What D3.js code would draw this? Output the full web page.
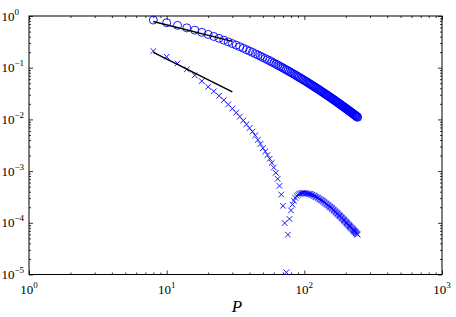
<!DOCTYPE html>
<html><head><meta charset="utf-8">
<script src="https://cdn.jsdelivr.net/npm/d3@7"></script>
<style>
html,body{margin:0;padding:0;background:#fff;}
svg{display:block;}
</style></head>
<body>
<svg id="chart" width="456" height="317"></svg>
<script>
// ---- data ----
const P = [
  8,10,12,14,16,18,20,22,24,26,
  28,30,32,34,36,38,40,42,44,46,
  48,50,52,54,56,58,60,62,64,66,
  68,70,72,74,76,78,80,82,84,86,
  88,90,92,94,96,98,100,102,104,106,
  108,110,112,114,116,118,120,122,124,126,
  128,130,132,134,136,138,140,142,144,146,
  148,150,152,154,156,158,160,162,164,166,
  168,170,172,174,176,178,180,182,184,186,
  188,190,192,194,196,198,200,202,204,206,
  208,210,212,214,216,218,220,222,224,226,
  228,230,232,234,236,238,240,242,244
];
const circleSeries = [
  0.836,0.740,0.659,0.590,0.532,0.483,0.440,0.402,0.370,0.341,
  0.316,0.293,0.273,0.255,0.238,0.2235,0.210,0.1978,0.1866,0.1763,
  0.1669,0.1582,0.1501,0.1426,0.1357,0.1293,0.1233,0.1178,0.1125,0.1077,
  0.1031,0.0988,0.0947,0.0909,0.0874,0.0840,0.0808,0.0778,0.0749,0.0722,
  0.0697,0.0672,0.0649,0.0627,0.0606,0.0586,0.0567,0.0549,0.0532,0.0515,
  0.0499,0.0484,0.0470,0.0456,0.0443,0.0430,0.0418,0.0406,0.0395,0.0384,
  0.0374,0.0364,0.0354,0.0345,0.0336,0.0327,0.0319,0.0311,0.0303,0.0296,
  0.0288,0.0281,0.0275,0.0268,0.0262,0.0256,0.0250,0.0244,0.0239,0.0234,
  0.0228,0.0223,0.0219,0.0214,0.0209,0.0205,0.0200,0.0196,0.0192,0.0188,
  0.0184,0.0181,0.0177,0.0174,0.0170,0.0167,0.0164,0.0160,0.0157,0.0154,
  0.0152,0.0149,0.0146,0.0143,0.0141,0.0138,0.0136,0.0133,0.0131,0.0129,
  0.0126,0.0124,0.0122,0.0120,0.0118,0.0116,0.0114,0.0112,0.0110
];
const crossSeries = [
  0.210,0.163,0.121,0.0927,0.0710,0.0550,0.0427,0.0349,0.0286,0.0236,
  0.0195,0.0162,0.0135,0.0113,0.00953,0.00805,0.00682,0.00581,0.00490,0.00403,
  0.00335,0.00277,0.00240,0.00205,0.00173,0.00144,0.00117,9.26e-4,7.09e-4,5.18e-4,
  3.52e-4,2.13e-4,9.9e-5,1.1e-5,5.9e-5,1.19e-4,1.74e-4,2.25e-4,2.68e-4,3.03e-4,
  3.30e-4,3.50e-4,3.63e-4,3.71e-4,3.75e-4,3.77e-4,3.77e-4,3.73e-4,3.69e-4,3.66e-4,
  3.62e-4,3.58e-4,3.55e-4,3.47e-4,3.39e-4,3.31e-4,3.23e-4,3.16e-4,3.09e-4,3.02e-4,
  2.93e-4,2.85e-4,2.78e-4,2.71e-4,2.64e-4,2.56e-4,2.49e-4,2.41e-4,2.34e-4,2.27e-4,
  2.21e-4,2.15e-4,2.08e-4,2.03e-4,1.97e-4,1.92e-4,1.86e-4,1.80e-4,1.75e-4,1.70e-4,
  1.65e-4,1.60e-4,1.55e-4,1.51e-4,1.46e-4,1.42e-4,1.38e-4,1.35e-4,1.31e-4,1.27e-4,
  1.23e-4,1.20e-4,1.16e-4,1.13e-4,1.10e-4,1.07e-4,1.04e-4,1.01e-4,9.83e-5,9.55e-5,
  9.29e-5,9.04e-5,8.80e-5,8.57e-5,8.34e-5,8.12e-5,7.92e-5,7.71e-5,7.52e-5,7.33e-5,
  7.15e-5,6.97e-5,6.80e-5,6.64e-5,6.48e-5,6.32e-5,6.17e-5,6.03e-5,5.89e-5
];
const fitP = [8, 30];
const circleFit = [0.78, 0.323];
const crossFit = [0.198, 0.034];
const xMajor = [1, 10, 100, 1000];
const xExp = ["0", "1", "2", "3"];
const yMajor = [1, 0.1, 0.01, 0.001, 1e-4, 1e-5];
const yExp = ["0", "\u22121", "\u22122", "\u22123", "\u22124", "\u22125"];
const xLabel = "P";

// ---- layout ----
const FONT = "'Liberation Serif', 'Times New Roman', Times, serif";
const svg = d3.select("#chart");
const L = 29, R = 442, T = 16, B = 274.5;
const x = d3.scaleLog().domain([1, 1000]).range([L, R]);
const y = d3.scaleLog().domain([1e-5, 1]).range([B, T]);

function minorsOf(domain) {
  const out = [];
  let d = domain[0];
  while (d < domain[1] - 1e-12) {
    for (let k = 2; k <= 9; k++) out.push(d * k);
    d *= 10;
  }
  return out;
}
const xMinor = minorsOf([1, 1000]);
const yMinor = minorsOf([1e-5, 1]);

function drawAxis(gen, transform, values, size) {
  const g = svg.append("g").attr("transform", transform)
    .call(gen.tickValues(values).tickSize(-size).tickFormat(""));
  g.select(".domain").remove();
  g.selectAll(".tick line").attr("stroke", "#000").attr("stroke-width", 0.8);
  g.selectAll(".tick text").remove();
}
[[xMinor, 2], [xMajor, 4]].forEach(([v, s]) => {
  drawAxis(d3.axisBottom(x), `translate(0,${B})`, v, s);
  drawAxis(d3.axisTop(x), `translate(0,${T})`, v, s);
});
[[yMinor, 2], [yMajor, 4]].forEach(([v, s]) => {
  drawAxis(d3.axisLeft(y), `translate(${L},0)`, v, s);
  drawAxis(d3.axisRight(y), `translate(${R},0)`, v, s);
});

// frame
svg.append("rect").attr("x", L).attr("y", T).attr("width", R - L).attr("height", B - T)
  .attr("fill", "none").attr("stroke", "#000").attr("stroke-width", 1);

// series: circles
const circData = P.map((p, i) => [p, circleSeries[i]]);
svg.append("g").selectAll("circle").data(circData).join("circle")
  .attr("cx", d => x(d[0])).attr("cy", d => y(d[1])).attr("r", 4)
  .attr("fill", "none").attr("stroke", "#0000ff").attr("stroke-width", 0.9);

// series: crosses
const crossData = P.map((p, i) => [p, crossSeries[i]]);
const s = 2.8;
svg.append("g").selectAll("path").data(crossData).join("path")
  .attr("d", d => {
    const cx = x(d[0]), cy = y(d[1]);
    return `M${cx - s},${cy - s}L${cx + s},${cy + s}M${cx - s},${cy + s}L${cx + s},${cy - s}`;
  })
  .attr("fill", "none").attr("stroke", "#0000ff").attr("stroke-width", 0.9);

// fit lines
const line = d3.line().x(d => x(d[0])).y(d => y(d[1]));
[circleFit, crossFit].forEach(f => {
  svg.append("path").attr("d", line(fitP.map((p, i) => [p, f[i]])))
    .attr("fill", "none").attr("stroke", "#000").attr("stroke-width", 1.5);
});

// tick labels
xMajor.forEach((v, i) => {
  const t = svg.append("text").attr("x", x(v)).attr("y", 294)
    .attr("text-anchor", "middle").attr("font-family", FONT).attr("font-size", 13).attr("fill", "#000");
  t.append("tspan").text("10");
  t.append("tspan").attr("dy", -6).attr("font-size", 9).text(xExp[i]);
});
yMajor.forEach((v, i) => {
  const t = svg.append("text").attr("x", 1.5).attr("y", y(v) + 4.5)
    .attr("text-anchor", "start").attr("font-family", FONT).attr("font-size", 13).attr("fill", "#000");
  t.append("tspan").text("10");
  t.append("tspan").attr("dy", -6).attr("font-size", 9).text(yExp[i]);
});

// axis label
svg.append("text").attr("x", 237).attr("y", 312).attr("text-anchor", "middle")
  .attr("font-family", FONT).attr("font-size", 17).attr("font-style", "italic").attr("fill", "#000")
  .text(xLabel);
</script>
</body></html>
